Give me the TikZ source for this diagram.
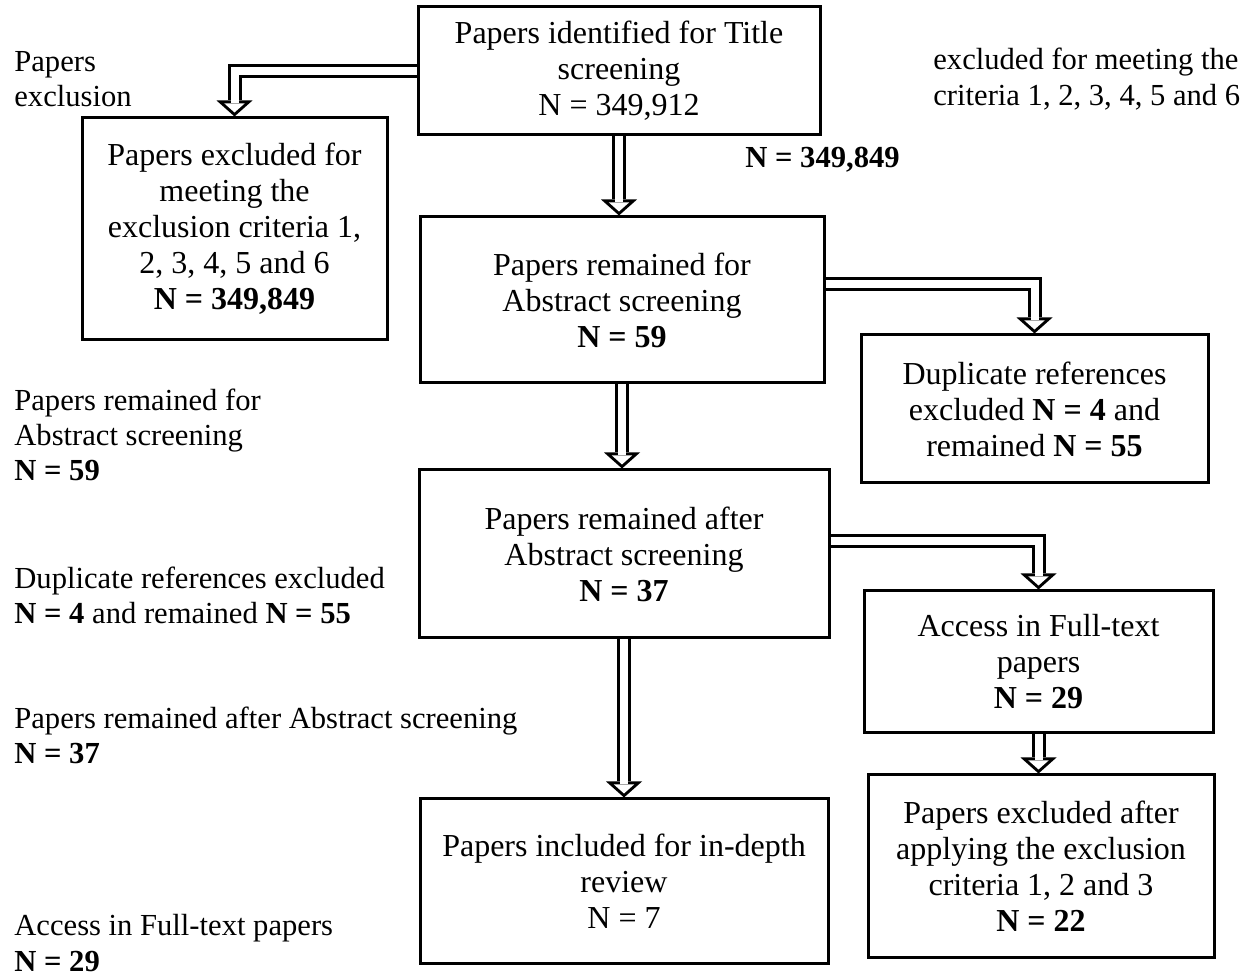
\documentclass[tikz,border=0pt]{standalone}
\usepackage{fontspec}
\setmainfont{Liberation Serif}
\usetikzlibrary{arrows.meta, positioning}

\tikzset{
  box/.style={draw=black, line width=1.5pt, rectangle, align=center, inner sep=2pt, font=\fontsize{16}{18}\selectfont},
  note/.style={align=left, inner sep=0pt, font=\fontsize{15.3}{17.6}\selectfont},
  hollow/.style={line width=7pt, line join=miter, -{Triangle[length=8pt, width=18pt, line width=0pt]},
    postaction={draw=white, line width=4pt, shorten >=2pt, -{Triangle[length=4.5pt, width=10.1pt, line width=0pt]}}}
}

\begin{document}
\begin{tikzpicture}[x=0.5pt, y=-0.5pt]
\useasboundingbox (0,0) rectangle (1248,977);

% boxes
\node[box, minimum width=201pt, minimum height=64pt] (title) at (619,71) {Papers identified for Title\\ screening\\ N = 349,912};
\node[box, minimum width=152.5pt, minimum height=111pt] (excl) at (234.5,229) {Papers excluded for\\ meeting the\\ exclusion criteria 1,\\ 2, 3, 4, 5 and 6\\ \textbf{N = 349,849}};
\node[box, minimum width=202pt, minimum height=83pt] (abs) at (622,300) {Papers remained for\\ Abstract screening\\ \textbf{N = 59}};
\node[box, minimum width=173.5pt, minimum height=74pt] (dup) at (1034.5,409) {Duplicate references\\ excluded \textbf{N = 4} and\\ remained \textbf{N = 55}};
\node[box, minimum width=205pt, minimum height=84pt] (aft) at (624,554) {Papers remained after\\ Abstract screening\\ \textbf{N = 37}};
\node[box, minimum width=174.5pt, minimum height=71pt] (acc) at (1038.5,662) {Access in Full-text\\ papers\\ \textbf{N = 29}};
\node[box, minimum width=173pt, minimum height=91pt] (exaft) at (1041,866) {Papers excluded after\\ applying the exclusion\\ criteria 1, 2 and 3\\ \textbf{N = 22}};
\node[box, minimum width=204pt, minimum height=82pt] (incl) at (624,881) {Papers included for in-depth\\ review\\ N = 7};

% side notes
\node[note, anchor=west] (lblexcl) at (14,79) {Papers\\ exclusion};
\node[note, anchor=west] (lblcrit) at (933,79) {excluded for meeting the\\ criteria 1, 2, 3, 4, 5 and 6};
\node[note, anchor=west] (lbln) at (745,160) {\textbf{N = 349,849}};
\node[note, anchor=west] (lblabs) at (14,435) {Papers remained for\\ Abstract screening\\ \textbf{N = 59}};
\node[note, anchor=west] (lbldup) at (14,595) {Duplicate references excluded\\ \textbf{N = 4} and remained \textbf{N = 55}};
\node[note, anchor=west] (lblaft) at (14,735) {Papers remained after Abstract screening\\ \textbf{N = 37}};
\node[note, anchor=west] (lblacc) at (14,943) {Access in Full-text papers\\ \textbf{N = 29}};

% arrows
\draw[hollow] (title.west) -| (excl.north);
\draw[hollow] (title.south) -- (title.south |- abs.north);
\draw[hollow] ([yshift=8pt]abs.east) -| (dup.north);
\draw[hollow] (abs.south) -- (abs.south |- aft.north);
\draw[hollow] ([yshift=6.5pt]aft.east) -| (acc.north);
\draw[hollow] (aft.south) -- (aft.south |- incl.north);
\draw[hollow] (acc.south) -- (acc.south |- exaft.north);
\end{tikzpicture}
\end{document}
